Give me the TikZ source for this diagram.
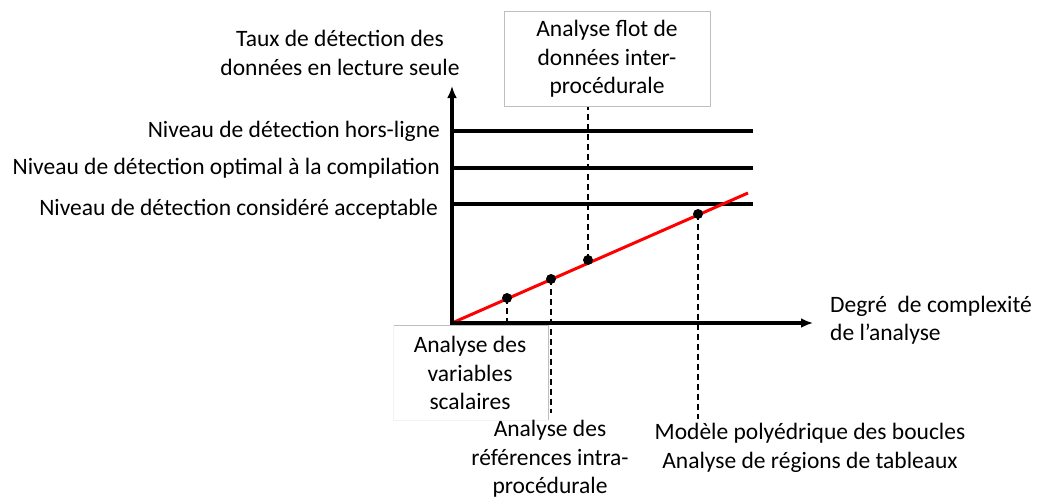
\documentclass[tikz,border=0pt]{standalone}
\usepackage{fontspec}
\setmainfont{Carlito}
\usetikzlibrary{arrows.meta}
\begin{document}
\begin{tikzpicture}[x=1pt,y=-1pt,
  lbl/.style={font=\fontsize{23.5}{28.5}\selectfont, inner sep=0pt, align=center},
  axis/.style={line width=3.2pt, -{Latex[length=12pt,width=10pt]}},
  level/.style={line width=3.2pt},
  guide/.style={line width=1.5pt, dash pattern=on 6pt off 4pt},
  dot/.style={circle, fill=black, inner sep=0pt, minimum size=10pt},
  gbox/.style={draw=black!25, line width=0.8pt}]
\useasboundingbox (0,0) rectangle (1039,498);
% boxes
\node[gbox, minimum width=206pt, minimum height=95pt, inner sep=0pt] (topbox) at (607,59) {};
\node[lbl] (toptxt) at (607,59) {Analyse flot de\\données inter-\\procédurale};
\draw[black!25, line width=0.8pt] (393,325) -- (548,325) -- (548,420);
\draw[black!5, line width=0.8pt] (393,325) -- (393,420) -- (548,420);
% coordinates
\coordinate (O) at (452,323);
\coordinate (ytop) at (452,86);
\coordinate (xend) at (813,323);
\coordinate (l1a) at (452,131); \coordinate (l1b) at (753,131);
\coordinate (l2a) at (452,168); \coordinate (l2b) at (753,168);
\coordinate (l3a) at (452,204); \coordinate (l3b) at (753,204);
\coordinate (rend) at (748,193);
% levels
\draw[level] (l1a) -- (l1b);
\draw[level] (l2a) -- (l2b);
\draw[level] (l3a) -- (l3b);
% red line
\draw[red, line width=3pt] (O) -- (rend);
% dots
\node[dot] (d1) at (507,298) {};
\node[dot] (d2) at (551,279) {};
\node[dot] (d3) at (588,260) {};
\node[dot] (d4) at (698,214) {};
\coordinate (g1) at (507,323);
\coordinate (g2) at (551,413);
\coordinate (g4) at (698,419);
\draw[guide] (d1.center) -- (g1);
\draw[guide] (d2.center) -- (g2);
\draw[guide] (d3.center) -- (topbox.south -| d3);
\draw[guide] (d4.center) -- (g4);
% axes
\draw[axis] ([xshift=-1.6pt]O) -- (xend);
\draw[axis] ([yshift=1.6pt]O) -- (ytop);
% labels
\node[lbl] (ylab) at (340,53) {Taux de détection des\\données en lecture seule};
\node[lbl, anchor=east] (n1) at (440,131) {Niveau de détection hors-ligne};
\node[lbl, anchor=east] (n2) at (440,168) {Niveau de détection optimal à la compilation};
\node[lbl, anchor=east] (n3) at (438,209) {Niveau de détection considéré acceptable};
\node[lbl, align=left, anchor=west] (xlab) at (830,320) {Degré\ \ de complexité\\de l’analyse};
\node[lbl] (a1) at (470,373) {Analyse des\\variables\\scalaires};
\node[lbl] (a2) at (550,459) {Analyse des\\références intra-\\procédurale};
\node[lbl] (a3) at (810,448) {Modèle polyédrique des boucles\\Analyse de régions de tableaux};
\end{tikzpicture}
\end{document}
